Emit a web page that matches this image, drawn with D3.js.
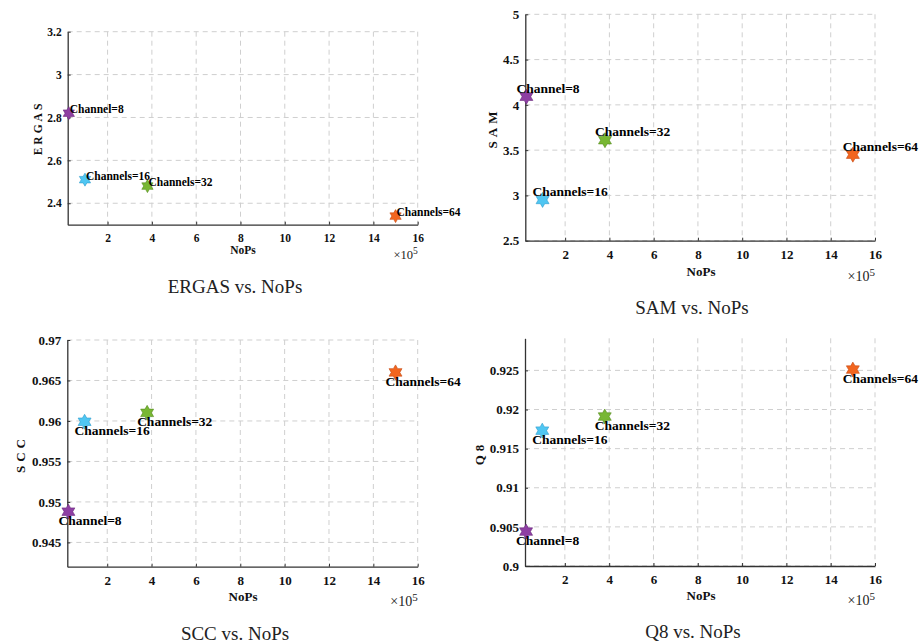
<!DOCTYPE html>
<html>
<head>
<meta charset="utf-8">
<script src="https://cdn.jsdelivr.net/npm/d3@7"></script>
<style>
  body { margin: 0; background: #fff; }
  svg text { font-family: 'Liberation Serif', 'Times New Roman', serif !important; }
  .tick-label { font-weight: bold; fill: #111; }
  .pt-label { font-weight: bold; fill: #000; }
  .ax-title { font-weight: bold; fill: #111; }
  .caption { fill: #222; }
</style>
</head>
<body>
<svg id="chart" width="921" height="644"></svg>
<script>
//data
var channelNames = ['Channel=8', 'Channels=16', 'Channels=32', 'Channels=64'];
var nops = [0.25, 0.98, 3.8, 15.0]; // x 10^5
var ergas = [2.82, 2.51, 2.48, 2.34];
var sam = [4.09, 2.95, 3.61, 3.45];
var scc = [0.9488, 0.9599, 0.9610, 0.9660];
var q8 = [0.9044, 0.9173, 0.9191, 0.9251];
var pointColors = ['#8e3fa3', '#4fc6f2', '#78b733', '#f2651f'];
var edgeColors = ['#6a2a7c', '#2f9ccc', '#548a1d', '#c44a12'];

var xTicks = [2, 4, 6, 8, 10, 12, 14, 16];
var ergasTicks = [2.4, 2.6, 2.8, 3, 3.2];
var samTicks = [2.5, 3, 3.5, 4, 4.5, 5];
var sccTicks = [0.945, 0.95, 0.955, 0.96, 0.965, 0.97];
var q8Ticks = [0.9, 0.905, 0.91, 0.915, 0.92, 0.925];

var svg = d3.select('#chart');

//six-pointed star marker
var hexagram = {
	draw: function(context, size) {
		var r = Math.sqrt(size) / 2;
		var ri = r / Math.sqrt(3);
		for (var i = 0; i < 12; i++) {
			var a = -Math.PI / 2 + i * Math.PI / 6;
			var rr = (i % 2 === 0) ? r : ri;
			if (i === 0) context.moveTo(rr * Math.cos(a), rr * Math.sin(a));
			else context.lineTo(rr * Math.cos(a), rr * Math.sin(a));
		}
		context.closePath();
	}
};

function drawPanel(p) {
	var x = d3.scaleLinear().domain([0.2, 16]).range([p.left, p.right]);
	var y = d3.scaleLinear().domain(p.yDomain).range([p.bottom, p.top]);
	var g = svg.append('g');

	//dashed grid
	g.selectAll('.vgrid').data(xTicks).join('line')
		.attr('x1', d => x(d)).attr('x2', d => x(d))
		.attr('y1', p.top).attr('y2', p.bottom)
		.style('stroke', '#cfcfcf').style('stroke-dasharray', '5,4').style('stroke-width', 1);
	g.selectAll('.hgrid').data(p.yTicks).join('line')
		.attr('x1', p.left).attr('x2', p.right)
		.attr('y1', d => y(d)).attr('y2', d => y(d))
		.style('stroke', '#cfcfcf').style('stroke-dasharray', '5,4').style('stroke-width', 1);

	//axes
	var xAxis = d3.axisBottom(x).tickValues(xTicks).tickSizeInner(-3).tickSizeOuter(0).tickPadding(9);
	var yAxis = d3.axisLeft(y).tickValues(p.yTicks).tickFormat(d => String(+d.toFixed(3))).tickSizeInner(-3).tickSizeOuter(0).tickPadding(6);
	var gx = g.append('g').attr('transform', `translate(0,${p.bottom})`).call(xAxis);
	var gy = g.append('g').attr('transform', `translate(${p.left},0)`).call(yAxis);
	[gx, gy].forEach(function(a) {
		a.attr('font-family', null);
		a.select('.domain').style('stroke', '#333').style('stroke-width', 1.3);
		a.selectAll('.tick line').style('stroke', '#333');
		a.selectAll('.tick text').classed('tick-label', true)
			.style('font-size', p.tickFont + 'px');
	});

	//axis titles
	g.append('text').classed('ax-title', true)
		.attr('x', p.xTitle[0]).attr('y', p.xTitle[1])
		.style('text-anchor', 'middle').style('font-size', p.tickFont + 'px')
		.text('NoPs');
	g.append('text').classed('ax-title', true)
		.attr('transform', `translate(${p.yTitle[0]},${p.yTitle[1]}) rotate(-90)`)
		.style('text-anchor', 'middle').style('font-size', p.tickFont + 'px')
		.style('letter-spacing', p.spacing + 'px')
		.text(p.yLabel);
	var ex = g.append('text').attr('x', p.right).attr('y', p.exp)
		.style('text-anchor', 'end').style('font-size', (p.tickFont + 1) + 'px').style('fill', '#222');
	ex.append('tspan').text('\u00d710');
	ex.append('tspan').attr('dy', -5).style('font-size', (p.tickFont - 2) + 'px').text('5');

	//caption
	g.append('text').classed('caption', true)
		.attr('x', p.caption[0]).attr('y', p.caption[1])
		.style('text-anchor', 'middle').style('font-size', '19px')
		.text(p.caption[2]);

	//markers
	var idx = d3.range(nops.length);
	g.selectAll('.pt').data(idx).join('path')
		.attr('transform', i => `translate(${x(nops[i])},${y(p.values[i])})`)
		.attr('d', d3.symbol().type(hexagram).size(p.marker * p.marker))
		.style('fill', i => pointColors[i])
		.style('stroke', i => edgeColors[i])
		.style('stroke-width', 0.6);

	//point labels
	g.selectAll('.pt-label').data(idx).join('text')
		.classed('pt-label', true)
		.attr('x', i => x(nops[i]) + p.dx)
		.attr('y', i => y(p.values[i]) + p.dy)
		.attr('dominant-baseline', 'central')
		.style('font-size', p.labelFont + 'px')
		.text(i => channelNames[i]);
}

drawPanel({left: 67.7, right: 417.7, top: 31.7, bottom: 224.7, yDomain: [2.3, 3.2], yTicks: ergasTicks,
	values: ergas, yLabel: 'ERGAS', spacing: 3, tickFont: 11.5, labelFont: 11.5, marker: 13, dx: 1, dy: -4,
	xTitle: [243, 254], yTitle: [42, 128], exp: 259, caption: [235, 293, 'ERGAS vs. NoPs']});
drawPanel({left: 525.3, right: 875, top: 14.3, bottom: 240.7, yDomain: [2.5, 5], yTicks: samTicks,
	values: sam, yLabel: 'SAM', spacing: 4, tickFont: 13, labelFont: 13.5, marker: 15, dx: -10, dy: -8.5,
	xTitle: [701, 276], yTitle: [497, 128], exp: 281, caption: [692, 314, 'SAM vs. NoPs']});
drawPanel({left: 67.3, right: 417.7, top: 340, bottom: 566.7, yDomain: [0.942, 0.97], yTicks: sccTicks,
	values: scc, yLabel: 'SCC', spacing: 4, tickFont: 13, labelFont: 13.5, marker: 15, dx: -10, dy: 9,
	xTitle: [243, 601], yTitle: [25, 454], exp: 606, caption: [235, 640, 'SCC vs. NoPs']});
drawPanel({left: 525, right: 875, top: 338.3, bottom: 566, yDomain: [0.9, 0.9291], yTicks: q8Ticks,
	values: q8, yLabel: 'Q8', spacing: 4, tickFont: 13, labelFont: 13.5, marker: 15, dx: -10, dy: 8.5,
	xTitle: [701, 600], yTitle: [484, 453], exp: 605, caption: [693, 638, 'Q8 vs. NoPs']});
</script>
</body>
</html>
